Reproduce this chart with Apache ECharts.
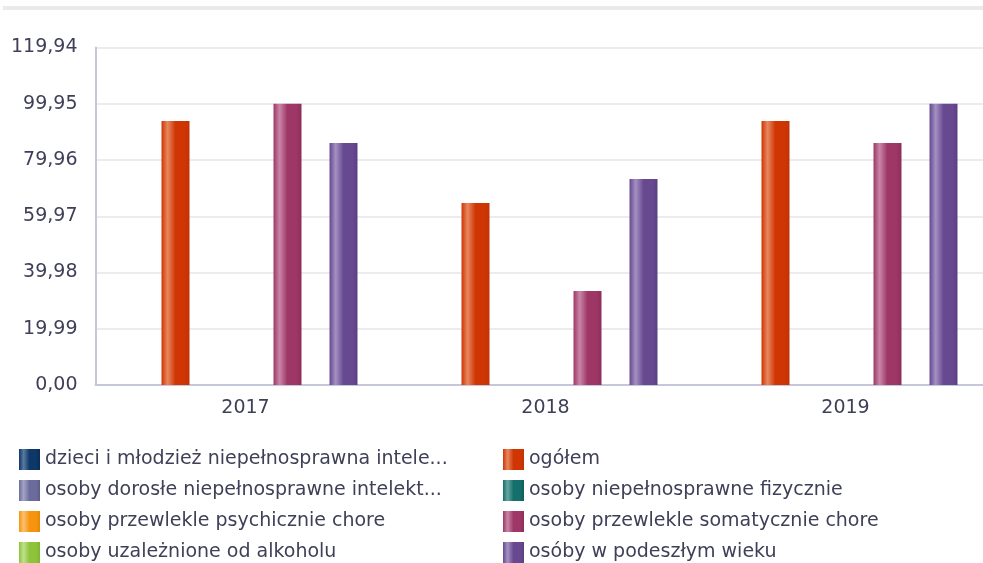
<!DOCTYPE html>
<html>
<head>
<meta charset="utf-8">
<script src="https://cdn.jsdelivr.net/npm/echarts@6/dist/echarts.min.js"></script>
<style>
html,body{margin:0;padding:0;background:#fff;}
#c{width:983px;height:563px;}
</style>
</head>
<body>
<div id="c"></div>
<script>
var categories = ['2017', '2018', '2019'];
var seriesNames = [
  'dzieci i młodzież niepełnosprawna intele...',
  'ogółem',
  'osoby dorosłe niepełnosprawne intelekt...',
  'osoby niepełnosprawne fizycznie',
  'osoby przewlekle psychicznie chore',
  'osoby przewlekle somatycznie chore',
  'osoby uzależnione od alkoholu',
  'osóby w podeszłym wieku'
];
var dzieci = [null, null, null];
var ogolem = [93.8, 64.7, 93.8];
var dorosle = [null, null, null];
var fizycznie = [null, null, null];
var psychicznie = [null, null, null];
var somatycznie = [99.95, 33.4, 86.0];
var uzaleznione = [null, null, null];
var podeszly = [86.0, 73.2, 99.95];
var yTicks = [0, 19.99, 39.98, 59.97, 79.96, 99.95, 119.94];

var seriesData = [dzieci, ogolem, dorosle, fizycznie, psychicznie, somatycznie, uzaleznione, podeszly];
var palette = [
  {base:'#0d3868', light:'#5a7aa0', dark:'#0a2c55'},
  {base:'#cf3604', light:'#e8875f', dark:'#c23206'},
  {base:'#6c6c9c', light:'#a3a3c6', dark:'#5c5c8a'},
  {base:'#156f6a', light:'#66a6a2', dark:'#105e5a'},
  {base:'#f7940f', light:'#fbc070', dark:'#e4850a'},
  {base:'#9e3766', light:'#c986a7', dark:'#8d2f5b'},
  {base:'#8dc43c', light:'#bfe08c', dark:'#7fb332'},
  {base:'#674990', light:'#a391c3', dark:'#5b3f82'}
];
function grad(p){
  return new echarts.graphic.LinearGradient(0,0,1,0,[
    {offset:0, color:p.base},
    {offset:0.22, color:p.light},
    {offset:0.5, color:p.base},
    {offset:0.82, color:p.base},
    {offset:1, color:p.dark}
  ]);
}
var series = seriesNames.map(function(n,i){
  return {
    name:n, type:'bar', data:seriesData[i],
    barWidth:28, barGap:'0%',
    itemStyle:{color:grad(palette[i])},
    emphasis:{disabled:true}
  };
});
var txt = '#3f4058';
var font = 'DejaVu Sans';
function legend(idxs, left){
  return {
    orient:'vertical', left:left, top:449, height:140, padding:0,
    itemWidth:21, itemHeight:21, itemGap:10,
    icon:'rect',
    data:idxs.map(function(i){return seriesNames[i];}),
    textStyle:{color:txt, fontSize:19, fontFamily:font, padding:[0,0,0,0]},
    selectedMode:false
  };
}
var chart = echarts.init(document.getElementById('c'), null, {renderer:'canvas'});
chart.setOption({
  animation:false,
  backgroundColor:'#fff',
  graphic:[{type:'rect', shape:{x:3,y:6,width:980,height:4}, style:{fill:'#eaeaec'}}],
  grid:{left:95.5, width:900, top:47.5, bottom:178, containLabel:false, outerBoundsMode:'none'},
  legend:[legend([0,2,4,6], 19), legend([1,3,5,7], 503)],
  xAxis:{
    type:'category', data:categories,
    axisLine:{lineStyle:{color:'#c5c8da', width:2}},
    axisTick:{show:false},
    axisLabel:{color:txt, fontSize:19, fontFamily:font, margin:14}
  },
  yAxis:{
    type:'value', min:0, max:yTicks[yTicks.length-1], interval:yTicks[1],
    axisLine:{show:true, lineStyle:{color:'#c5c8da', width:2}},
    axisTick:{show:false},
    splitLine:{lineStyle:{color:'#ebebf0', width:2}},
    axisLabel:{color:txt, fontSize:19, fontFamily:font, margin:18,
      formatter:function(v){return v.toFixed(2).replace('.',',');}}
  },
  series:series
});
</script>
</body>
</html>
